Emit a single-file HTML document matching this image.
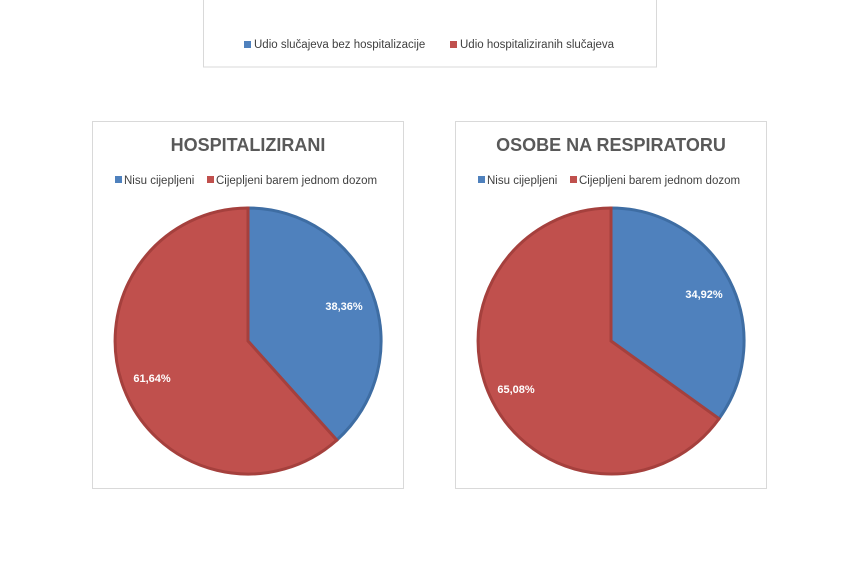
<!DOCTYPE html>
<html><head><meta charset="utf-8"><style>
body{margin:0;background:#fff;width:854px;height:562px;overflow:hidden;font-family:"Liberation Sans",sans-serif}
</style></head><body>
<svg width="854" height="562" xmlns="http://www.w3.org/2000/svg" font-family="Liberation Sans, sans-serif">
<rect x="203.5" y="-1" width="453" height="68" fill="#fff" stroke="#d9d9d9"/>
<rect x="244" y="41" width="7" height="7" fill="#4f81bd"/>
<text x="254" y="48" font-size="11.5" fill="#404040">Udio slučajeva bez hospitalizacije</text>
<rect x="450" y="41" width="7" height="7" fill="#c0504d"/>
<text x="460" y="48" font-size="11.5" fill="#404040">Udio hospitaliziranih slučajeva</text>

<rect x="92.5" y="121.5" width="311" height="367" fill="#fff" stroke="#d9d9d9"/>
<text x="248" y="151" font-size="18" font-weight="bold" fill="#595959" text-anchor="middle">HOSPITALIZIRANI</text>
<rect x="115" y="176" width="7" height="7" fill="#4f81bd"/>
<text x="124" y="184" font-size="11.5" fill="#404040">Nisu cijepljeni</text>
<rect x="207" y="176" width="7" height="7" fill="#c0504d"/>
<text x="216" y="184" font-size="11.5" fill="#404040">Cijepljeni barem jednom dozom</text>
<path d="M248,341 L248,208 A133,133 0 0 1 336.8,440.1 Z" fill="#4f81bd" stroke="#3e6da3" stroke-width="3"/>
<path d="M248,341 L336.8,440.1 A133,133 0 1 1 248,208 Z" fill="#c0504d" stroke="#a5403d" stroke-width="3"/>
<text x="344" y="310" font-size="11" font-weight="bold" fill="#fff" text-anchor="middle">38,36%</text>
<text x="152" y="382" font-size="11" font-weight="bold" fill="#fff" text-anchor="middle">61,64%</text>

<rect x="455.5" y="121.5" width="311" height="367" fill="#fff" stroke="#d9d9d9"/>
<text x="611" y="151" font-size="18" font-weight="bold" fill="#595959" text-anchor="middle">OSOBE NA RESPIRATORU</text>
<rect x="478" y="176" width="7" height="7" fill="#4f81bd"/>
<text x="487" y="184" font-size="11.5" fill="#404040">Nisu cijepljeni</text>
<rect x="570" y="176" width="7" height="7" fill="#c0504d"/>
<text x="579" y="184" font-size="11.5" fill="#404040">Cijepljeni barem jednom dozom</text>
<path d="M611,341 L611,208 A133,133 0 0 1 719,418.7 Z" fill="#4f81bd" stroke="#3e6da3" stroke-width="3"/>
<path d="M611,341 L719,418.7 A133,133 0 1 1 611,208 Z" fill="#c0504d" stroke="#a5403d" stroke-width="3"/>
<text x="704" y="298" font-size="11" font-weight="bold" fill="#fff" text-anchor="middle">34,92%</text>
<text x="516" y="393" font-size="11" font-weight="bold" fill="#fff" text-anchor="middle">65,08%</text>
</svg>
</body></html>
